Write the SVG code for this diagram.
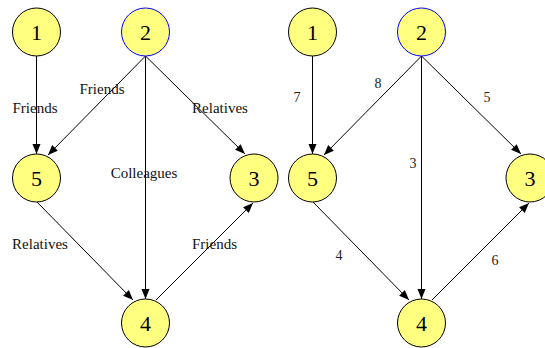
<svg xmlns="http://www.w3.org/2000/svg" width="545" height="348" viewBox="0 0 545 348">
<style>
.node circle{fill:#ffff80;stroke:#000;stroke-width:1}
.node.blue circle{stroke:#0000ff}
.node text{font-family:"Liberation Serif",serif;font-size:22px;text-anchor:middle;fill:#000}
.edges line{stroke:#000;stroke-width:1;marker-end:url(#arr)}
.lbl{font-family:"Liberation Serif",serif;font-size:15px;text-anchor:middle;fill:#111}
.num{font-family:"Liberation Serif",serif;font-size:14px;text-anchor:middle;fill:#222}
</style>
<defs>
<marker id="arr" markerUnits="userSpaceOnUse" markerWidth="11" markerHeight="9" refX="10" refY="4" orient="auto">
<path d="M0,0 L10,4 L0,8 z" fill="#000"/>
</marker>
</defs>
<rect width="545" height="348" fill="#fff"/>
<g id="left">
<g id="edges-left" class="edges">
<line x1="36.5" y1="56" x2="36.5" y2="154"/>
<line x1="145.5" y1="56" x2="48" y2="155"/>
<line x1="145.5" y1="56" x2="245" y2="154"/>
<line x1="145.5" y1="56" x2="145.5" y2="299"/>
<line x1="37" y1="202" x2="133" y2="300"/>
<line x1="156" y1="300" x2="253" y2="203"/>
</g>
<g id="labels-left">
<text class="lbl" x="35" y="113">Friends</text>
<text class="lbl" x="102" y="94">Friends</text>
<text class="lbl" x="220" y="113">Relatives</text>
<text class="lbl" x="144" y="178">Colleagues</text>
<text class="lbl" x="40" y="249">Relatives</text>
<text class="lbl" x="214.5" y="249">Friends</text>
</g>
<g id="L1" class="node"><circle cx="36.5" cy="32" r="24"/><text x="36.5" y="40">1</text></g>
<g id="L2" class="node blue"><circle cx="145.5" cy="32" r="24"/><text x="145.5" y="40">2</text></g>
<g id="L5" class="node"><circle cx="36.5" cy="178" r="24"/><text x="36.5" y="186">5</text></g>
<g id="L3" class="node"><circle cx="254" cy="178" r="24"/><text x="254" y="186">3</text></g>
<g id="L4" class="node"><circle cx="145.5" cy="323" r="24"/><text x="145.5" y="331">4</text></g>
</g>
<g id="right">
<g id="edges-right" class="edges">
<line x1="312.5" y1="56" x2="312.5" y2="154"/>
<line x1="421.5" y1="56" x2="324" y2="155"/>
<line x1="421.5" y1="56" x2="521" y2="154"/>
<line x1="421.5" y1="56" x2="421.5" y2="299"/>
<line x1="313" y1="202" x2="409" y2="300"/>
<line x1="432" y1="300" x2="529" y2="203"/>
</g>
<g id="labels-right">
<text class="num" x="297" y="102">7</text>
<text class="num" x="378" y="88">8</text>
<text class="num" x="487" y="102">5</text>
<text class="num" x="413" y="168">3</text>
<text class="num" x="339" y="260">4</text>
<text class="num" x="495" y="265">6</text>
</g>
<g id="R1" class="node"><circle cx="312.5" cy="32" r="24"/><text x="312.5" y="40">1</text></g>
<g id="R2" class="node blue"><circle cx="421.5" cy="32" r="24"/><text x="421.5" y="40">2</text></g>
<g id="R5" class="node"><circle cx="312.5" cy="178" r="24"/><text x="312.5" y="186">5</text></g>
<g id="R3" class="node"><circle cx="530" cy="178" r="24"/><text x="530" y="186">3</text></g>
<g id="R4" class="node"><circle cx="421.5" cy="323" r="24"/><text x="421.5" y="331">4</text></g>
</g>
</svg>
